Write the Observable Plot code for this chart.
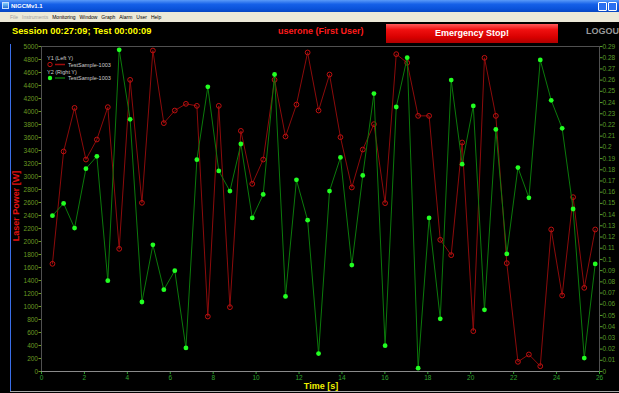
<!DOCTYPE html>
<html><head><meta charset="utf-8">
<script src="https://cdn.jsdelivr.net/npm/d3@7"></script>
<script src="https://cdn.jsdelivr.net/npm/@observablehq/plot@0.6"></script>
<style>
html,body{margin:0;padding:0;background:#000;width:619px;height:393px;overflow:hidden;font-family:"Liberation Sans",Arial,sans-serif;}
#wrap{position:relative;width:619px;height:393px;overflow:hidden;background:#000;}
.abs{position:absolute;white-space:nowrap;}
#titlebar{left:0;top:0;width:619px;height:12px;background:linear-gradient(to bottom,#5a9af8 0%,#1560e8 35%,#0a52da 75%,#0846c0 100%);}
#menubar{left:0;top:12px;width:619px;height:10px;background:#ece9d8;}
#chart{position:absolute;left:0;top:40px;}
</style></head>
<body><div id="wrap">
<div id="titlebar" class="abs"></div>
<div class="abs" style="left:2px;top:2px;width:7px;height:7px;background:linear-gradient(#7fd0ff,#2a6fd0);border:1px solid #c8e0ff;box-sizing:border-box"></div>
<div id="ttl" class="abs" style="left:11px;top:2px;font-size:6px;line-height:8px;color:#fff;font-weight:bold"></div>
<div class="abs" style="left:598px;top:2px;width:9px;height:9px;background:#2a6ff0;border:1px solid #fff;box-sizing:border-box;border-radius:1px"></div>
<div class="abs" style="left:608px;top:2px;width:9px;height:9px;background:#2a6ff0;border:1px solid #fff;box-sizing:border-box;border-radius:1px"></div>
<div id="menubar" class="abs"></div>
<div id="menu" class="abs" style="left:10px;top:13px;font-size:5px;line-height:8px;color:#000;display:flex;gap:4px"></div>
<div id="session" class="abs" style="left:12px;top:25px;font-size:9.3px;line-height:12px;font-weight:bold;color:#ffff00"></div>
<div id="user" class="abs" style="left:278px;top:25px;font-size:9px;line-height:12px;font-weight:bold;color:#ff1c1c"></div>
<div id="estop" class="abs" style="left:386px;top:24px;width:172px;height:19px;background:linear-gradient(to bottom,#ff5a5a 0%,#f01010 30%,#d80000 70%,#b00000 100%);color:#fff;font-size:9px;font-weight:bold;text-align:center;line-height:19px"></div>
<div id="logout" class="abs" style="left:586px;top:25px;font-size:9px;line-height:12px;font-weight:bold;color:#9a9a9a"></div>
<div class="abs" style="left:10px;top:44px;width:1px;height:348px;background:#3a6ee8"></div>
<div class="abs" style="left:10px;top:391px;width:609px;height:1px;background:#a8a8a8"></div>
<div id="chart"></div>
<div id="ylab" class="abs" style="left:16px;top:206px;transform:translate(-50%,-50%) rotate(-90deg);font-size:9px;font-weight:bold;color:#e01010"></div>
<div id="xlab" class="abs" style="left:321px;top:386px;transform:translate(-50%,-50%);font-size:9px;font-weight:bold;color:#f0f000"></div>
<svg id="legend" class="abs" style="left:40px;top:50px" width="90" height="34"></svg>
</div>
<script>
// ---- data ----
const times = [0.51,1.03,1.54,2.07,2.58,3.09,3.62,4.13,4.68,5.19,
  5.70,6.21,6.73,7.24,7.75,8.26,8.78,9.29,9.82,10.33,
  10.86,11.37,11.88,12.40,12.91,13.42,13.93,14.46,14.97,15.49,
  16.01,16.53,17.04,17.55,18.06,18.58,19.09,19.60,20.12,20.64,
  21.17,21.68,22.20,22.71,23.24,23.75,24.26,24.77,25.29,25.80];
const laserPower = [1657,3385,4056,3261,3569,4067,1887,4487,2595,4938,
  3821,4015,4118,4087,846,4087,990,3702,2887,3261,
  4487,3615,4107,4908,4015,4569,3605,2831,3415,3805,
  2590,4882,4749,3933,3933,2026,1790,3523,621,4826,
  3933,1667,149,262,82,2185,1169,2682,1287,2185];
const rightValues = [0.139,0.150,0.128,0.181,0.192,0.081,0.287,0.225,0.062,0.113,
  0.073,0.090,0.021,0.189,0.254,0.179,0.161,0.203,0.137,0.158,
  0.265,0.067,0.171,0.135,0.016,0.161,0.191,0.095,0.175,0.248,
  0.023,0.236,0.280,0.003,0.137,0.047,0.260,0.185,0.237,0.055,
  0.216,0.105,0.182,0.155,0.278,0.242,0.217,0.145,0.012,0.096];
const leftTicks = [0,200,400,600,800,1000,1200,1400,1600,1800,2000,2200,2400,2600,2800,3000,3200,3400,3600,3800,4000,4200,4400,4600,4800,5000];
const rightTicks = [0,0.01,0.02,0.03,0.04,0.05,0.06,0.07,0.08,0.09,0.1,0.11,0.12,0.13,0.14,0.15,0.16,0.17,0.18,0.19,0.2,0.21,0.22,0.23,0.24,0.25,0.26,0.27,0.28,0.29];
const xTicks = [0,2,4,6,8,10,12,14,16,18,20,22,24,26];
const leftMax = 5000, rightMax = 0.29;
const titleText = "NIGCMv1.1";
const menuItems = ["File","Instruments","Monitoring","Window","Graph","Alarm","User","Help"];
const sessionText = "Session 00:27:09; Test 00:00:09";
const userText = "userone (First User)";
const stopText = "Emergency Stop!";
const logoutText = "LOGOU";
const yLabel = "Laser Power [W]";
const xLabel = "Time [s]";
const legendY1 = "Y1 (Left Y)", legendY2 = "Y2 (Right Y)", seriesName = "TestSample-1003";

// ---- header ----
document.getElementById("ttl").textContent = titleText;
const menu = document.getElementById("menu");
menuItems.forEach((m,i)=>{const s=document.createElement("span");s.textContent=m;if(i<2)s.style.color="#a0a0a0";menu.appendChild(s);});
document.getElementById("session").textContent = sessionText;
document.getElementById("user").textContent = userText;
document.getElementById("estop").textContent = stopText;
document.getElementById("logout").textContent = logoutText;
document.getElementById("ylab").textContent = yLabel;
document.getElementById("xlab").textContent = xLabel;

// ---- legend ----
const lg = d3.select("#legend");
const lf = "Liberation Sans, Arial, sans-serif";
lg.append("text").attr("x",7).attr("y",10).attr("font-size",5.5).attr("font-family",lf).attr("fill","#cfcfcf").text(legendY1);
lg.append("circle").attr("cx",10).attr("cy",14.5).attr("r",2.2).attr("fill","none").attr("stroke","#c01010");
lg.append("line").attr("x1",15).attr("x2",25).attr("y1",14.5).attr("y2",14.5).attr("stroke","#a00c0c").attr("stroke-width",1.5);
lg.append("text").attr("x",28).attr("y",16.5).attr("font-size",5.5).attr("font-family",lf).attr("fill","#cfcfcf").text(seriesName);
lg.append("text").attr("x",7).attr("y",23.5).attr("font-size",5.5).attr("font-family",lf).attr("fill","#cfcfcf").text(legendY2);
lg.append("circle").attr("cx",10).attr("cy",28).attr("r",2.2).attr("fill","#22ff22");
lg.append("line").attr("x1",15).attr("x2",25).attr("y1",28).attr("y2",28).attr("stroke","#0a6e0a").attr("stroke-width",1.5);
lg.append("text").attr("x",28).attr("y",30).attr("font-size",5.5).attr("font-family",lf).attr("fill","#cfcfcf").text(seriesName);

// ---- chart ----
const k = leftMax / rightMax;
const red = times.map((t,i)=>({t, v: laserPower[i]}));
const green = times.map((t,i)=>({t, v: rightValues[i]*k}));
const chart = Plot.plot({
  width: 619, height: 353,
  marginLeft: 41, marginRight: 20, marginTop: 6, marginBottom: 22,
  style: {background: "transparent", fontFamily: "Liberation Sans, Arial, sans-serif", fontSize: "6.5px", overflow: "visible"},
  x: {domain: [0, 26]},
  y: {domain: [0, leftMax]},
  marks: [
    Plot.frame({stroke: "#505050"}),
    Plot.axisY(leftTicks, {anchor: "left", tickSize: 2.5, tickPadding: 1, color: "#6a9a22", label: null, fontSize: 6.5, tickFormat: d => String(d)}),
    Plot.axisY(rightTicks.map(r => r*k), {anchor: "right", tickSize: 2.5, tickPadding: 0.5, color: "#5a9e28", label: null, fontSize: 6.5, tickFormat: d => String(+(d/k).toFixed(2))}),
    Plot.axisX(xTicks, {anchor: "bottom", tickSize: 3, tickPadding: 1, color: "#2fa52f", label: null, fontSize: 6.5, tickFormat: d => String(d)}),
    Plot.ruleY([0], {stroke: "#8a8a8a"}),
    Plot.line(red, {x: "t", y: "v", stroke: "#8c0b0b", strokeWidth: 1}),
    Plot.dot(red, {x: "t", y: "v", r: 2.4, stroke: "#c01010", fill: "none", strokeWidth: 1}),
    Plot.line(green, {x: "t", y: "v", stroke: "#0b7a0b", strokeWidth: 1}),
    Plot.dot(green, {x: "t", y: "v", r: 2.4, fill: "#22ff22", stroke: "none"})
  ]
});
document.getElementById("chart").appendChild(chart);
</script>
</body></html>
